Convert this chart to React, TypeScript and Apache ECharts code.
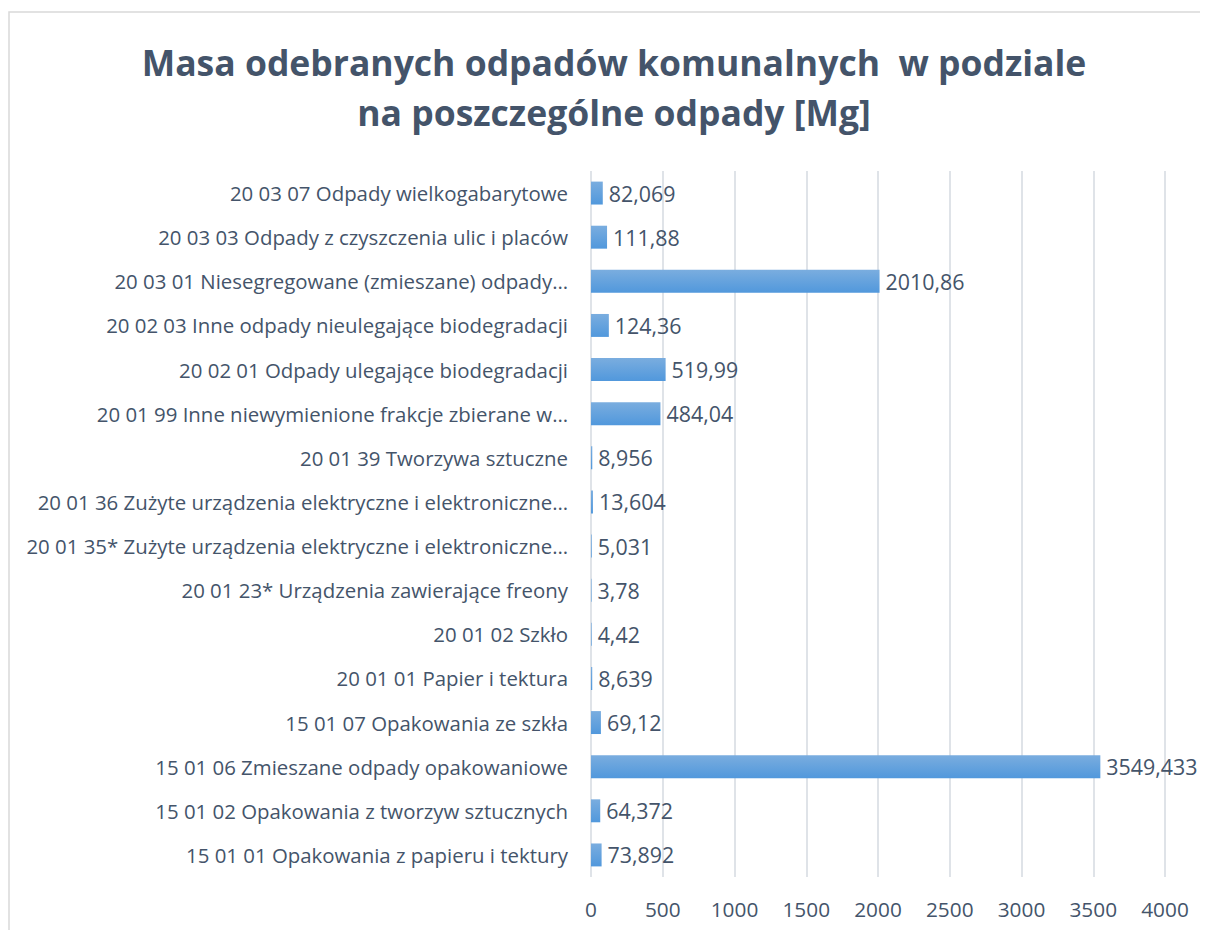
import React, { useEffect, useRef } from "react";
import * as echarts from "echarts";

const categories = [
  "20 03 07 Odpady wielkogabarytowe",
  "20 03 03 Odpady z czyszczenia ulic i placów",
  "20 03 01 Niesegregowane (zmieszane) odpady…",
  "20 02 03 Inne odpady nieulegające biodegradacji",
  "20 02 01 Odpady ulegające biodegradacji",
  "20 01 99 Inne niewymienione frakcje zbierane w…",
  "20 01 39 Tworzywa sztuczne",
  "20 01 36 Zużyte urządzenia elektryczne i elektroniczne…",
  "20 01 35* Zużyte urządzenia elektryczne i elektroniczne…",
  "20 01 23* Urządzenia zawierające freony",
  "20 01 02 Szkło",
  "20 01 01 Papier i tektura",
  "15 01 07 Opakowania ze szkła",
  "15 01 06 Zmieszane odpady opakowaniowe",
  "15 01 02 Opakowania z tworzyw sztucznych",
  "15 01 01 Opakowania z papieru i tektury",
];

const values = [
  82.069, 111.88, 2010.86, 124.36, 519.99, 484.04, 8.956, 13.604, 5.031, 3.78,
  4.42, 8.639, 69.12, 3549.433, 64.372, 73.892,
];

const valueLabels = [
  "82,069", "111,88", "2010,86", "124,36", "519,99", "484,04", "8,956", "13,604",
  "5,031", "3,78", "4,42", "8,639", "69,12", "3549,433", "64,372", "73,892",
];

const titleLines = [
  "Masa odebranych odpadów komunalnych  w podziale",
  "na poszczególne odpady [Mg]",
];

const FONT = "'Open Sans', sans-serif";
const TEXT = "#44546A";

export default function App() {
  const ref = useRef<HTMLDivElement>(null);
  useEffect(() => {
    if (!ref.current) return;
    const chart = echarts.init(ref.current, null, { renderer: "svg" });
    chart.setOption({
      animation: false,
      backgroundColor: "#ffffff",
      graphic: [
        {
          type: "rect",
          shape: { x: 1, y: 4, width: 1400, height: 1200 },
          style: { fill: "none", stroke: "#d9d9d9", lineWidth: 1.5 },
          silent: true,
        },
      ],
      title: {
        text: titleLines.join("\n"),
        left: 601,
        top: 24,
        textAlign: "center",
        textStyle: {
          fontFamily: FONT,
          fontWeight: "bold",
          fontSize: 35.5,
          lineHeight: 50,
          color: TEXT,
        },
      },
      grid: { left: 583, right: 43, top: 163, bottom: 53 },
      xAxis: {
        type: "value",
        min: 0,
        max: 4000,
        interval: 500,
        axisLine: { show: false },
        axisTick: { show: false },
        splitLine: { lineStyle: { color: "#dfe3e8", width: 2 } },
        axisLabel: {
          fontFamily: FONT,
          fontSize: 20.8,
          color: TEXT,
          margin: 21,
          formatter: (v: number) => String(v),
        },
      },
      yAxis: {
        type: "category",
        data: categories,
        inverse: true,
        axisLine: { show: false },
        axisTick: { show: false },
        axisLabel: {
          fontFamily: FONT,
          fontSize: 20.4,
          color: TEXT,
          margin: 23,
        },
      },
      series: [
        {
          type: "bar",
          data: values,
          barCategoryGap: "48%",
          itemStyle: {
            color: new echarts.graphic.LinearGradient(0, 0, 0, 1, [
              { offset: 0, color: "#7aaddf" },
              { offset: 1, color: "#5198dc" },
            ]),
          },
          label: {
            show: true,
            position: "right",
            distance: 6,
            fontFamily: FONT,
            fontSize: 21.4,
            color: TEXT,
            formatter: (p: any) => valueLabels[p.dataIndex],
          },
        },
      ],
    });
    return () => chart.dispose();
  }, []);
  return <div ref={ref} style={{ width: 1200, height: 922 }} />;
}
